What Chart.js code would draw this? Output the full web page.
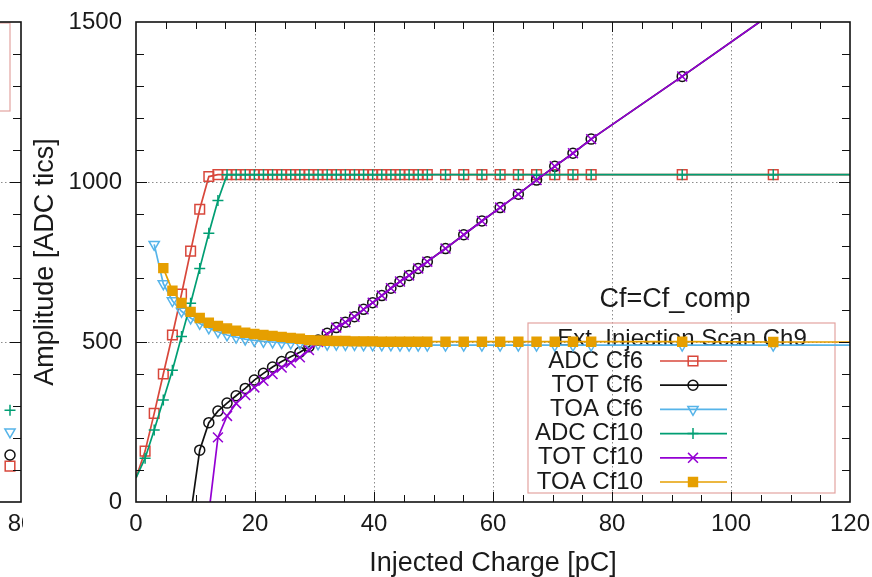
<!DOCTYPE html>
<html>
<head>
<meta charset="utf-8">
<script src="https://cdn.jsdelivr.net/npm/chart.js@4/dist/chart.umd.min.js"></script>
<style>
  html, body { margin: 0; padding: 0; background: #fff; overflow: hidden; width: 872px; height: 577px; }
  #side { position: absolute; left: -479px; top: 0; width: 530px; height: 577px; }
  #main { position: absolute; left: 23px; top: 0; width: 880px; height: 577px; background: #fff; }
  canvas { display: block; }
</style>
</head>
<body>
<div id="side"><canvas id="sideChart" width="530" height="577"></canvas></div>
<div id="main"><canvas id="mainChart" width="880" height="577"></canvas></div>
<script>
// Injected charge of each scan step [pC]
const charge = [0, 1.53, 3.06, 4.59, 6.12, 7.65, 9.18, 10.71, 12.24, 13.77, 15.30, 16.83, 18.36, 19.89,
  21.42, 22.95, 24.48, 26.01, 27.54, 29.07, 30.60, 32.13, 33.66, 35.19, 36.72, 38.25, 39.78, 41.31,
  42.84, 44.37, 45.90, 47.43, 48.96, 52.02, 55.08, 58.14, 61.20, 64.26, 67.32, 70.38, 73.44, 76.50,
  91.80, 107.10, 122.40];

// Amplitudes [ADC tics] per scan step (null = no measurement)
const adcCf6 = [75, 159, 277, 400, 522, 650, 784, 915, 1017, 1023, 1023, 1023, 1023, 1023, 1023,
  1023, 1023, 1023, 1023, 1023, 1023, 1023, 1023, 1023, 1023, 1023, 1023, 1023, 1023, 1023, 1023,
  1023, 1023, 1023, 1023, 1023, 1023, 1023, 1023, 1023, 1023, 1023, 1023, 1023, 1023];
const totCf6 = [null, null, null, null, null, null, -40, 162, 248, 284, 309, 332, 355, 381, 402,
  422, 439, 454, 468, 485, 506, 527, 545, 562, 579, 602, 623, 645, 668, 689, 708, 730, 751,
  792, 835, 878, 920, 962, 1006, 1049, 1090, 1134, 1330, 1530, 1730];
const toaCf6 = [null, null, 805, 682, 629, 596, 575, 558, 544, 532, 522, 515, 509, 505, 502, 500,
  498, 497, 496, 495, 494, 493, 493, 492, 492, 491, 491, 491, 491, 490, 490, 490, 490,
  490, 490, 490, 490, 490, 490, 490, 490, 490, 490, 490, 490];
const adcCf10 = [75, 137, 225, 319, 412, 517, 621, 730, 840, 942, 1023, 1023, 1023, 1023, 1023,
  1023, 1023, 1023, 1023, 1023, 1023, 1023, 1023, 1023, 1023, 1023, 1023, 1023, 1023, 1023, 1023,
  1023, 1023, 1023, 1023, 1023, 1023, 1023, 1023, 1023, 1023, 1023, 1023, 1023, 1023];
const totCf10 = [null, null, null, null, null, null, null, null, -35, 202, 269, 308, 334, 358, 379,
  400, 420, 435, 452, 475, 500, 524, 545, 562, 579, 602, 623, 645, 668, 689, 708, 730, 751,
  792, 835, 878, 920, 962, 1006, 1049, 1090, 1134, 1330, 1530, 1730];
const toaCf10 = [null, null, null, 731, 660, 622, 594, 575, 560, 550, 542, 535, 529, 525, 522, 519,
  516, 513, 510, 506, 505, 504, 503, 503, 502, 502, 502, 501, 501, 501, 501, 501, 501,
  501, 501, 501, 501, 501, 501, 501, 501, 501, 501, 500, 500];

const seriesLabels = ['ADC Cf6', 'TOT Cf6', 'TOA Cf6', 'ADC Cf10', 'TOT Cf10', 'TOA Cf10'];
const seriesValues = [adcCf6, totCf6, toaCf6, adcCf10, totCf10, toaCf10];

// Labelled ticks
const xTickLabels = [0, 20, 40, 60, 80, 100, 120];
const yTickLabels = [0, 500, 1000, 1500];

// Neighbouring panel (only its right edge is visible)
const sideCharge = [78];
const sideAdcCf10 = [287];
const sideToaCf6 = [219];
const sideTotCf6 = [147];
const sideAdcCf6 = [112];
const sideXTickLabels = [0, 20, 40, 60, 80];

const keyTitle = 'Ext. Injection Scan Ch9';
const configLabel = 'Cf=Cf_comp';

// ---- styling ----
const FONT = "'Liberation Sans', Arial, Helvetica, sans-serif";
Chart.defaults.font.family = FONT;
Chart.defaults.color = '#1a1a1a';

const styles = [
  { color: '#d8473b', pointStyle: 'rect', radius: 6.8, filled: false, rotation: 0 },
  { color: '#111111', pointStyle: 'circle', radius: 5.0, filled: false, rotation: 0 },
  { color: '#56b4e9', pointStyle: 'triangle', radius: 5.9, filled: false, rotation: 180 },
  { color: '#009e73', pointStyle: 'cross', radius: 5.5, filled: false, rotation: 0 },
  { color: '#9400d3', pointStyle: 'crossRot', radius: 7.0, filled: false, rotation: 0 },
  { color: '#e69f00', pointStyle: 'rect', radius: 6.3, filled: true, rotation: 0 }
];

function toPoints(values, xs) {
  const pts = [];
  values.forEach((v, i) => { if (v !== null) pts.push({ x: xs[i], y: v }); });
  return pts;
}

function makeDataset(label, points, st, order) {
  return {
    label,
    data: points,
    borderColor: st.color,
    backgroundColor: st.filled ? st.color : 'rgba(0,0,0,0)',
    pointBorderColor: st.color,
    pointBackgroundColor: st.filled ? st.color : 'rgba(0,0,0,0)',
    pointStyle: st.pointStyle,
    pointRotation: st.rotation,
    pointRadius: ctx => (ctx.raw && ctx.raw.x <= 0) ? 0 : st.radius,
    pointHoverRadius: st.radius,
    pointBorderWidth: 1.5,
    borderWidth: 1.7,
    tension: 0,
    clip: 0,
    order
  };
}

// marker drawing for the key (same geometry as Chart.js point styles)
function drawMarker(ctx, st, x, y) {
  const r = st.radius;
  ctx.save();
  ctx.strokeStyle = st.color;
  ctx.fillStyle = st.color;
  ctx.lineWidth = 1.5;
  ctx.beginPath();
  if (st.pointStyle === 'rect') {
    const s = r * Math.SQRT1_2;
    ctx.rect(x - s, y - s, 2 * s, 2 * s);
  } else if (st.pointStyle === 'circle') {
    ctx.arc(x, y, r, 0, Math.PI * 2);
  } else if (st.pointStyle === 'triangle') {
    let rad = st.rotation * Math.PI / 180;
    ctx.moveTo(x + Math.sin(rad) * r, y - Math.cos(rad) * r);
    rad += 2 * Math.PI / 3;
    ctx.lineTo(x + Math.sin(rad) * r, y - Math.cos(rad) * r);
    rad += 2 * Math.PI / 3;
    ctx.lineTo(x + Math.sin(rad) * r, y - Math.cos(rad) * r);
    ctx.closePath();
  } else if (st.pointStyle === 'cross') {
    ctx.moveTo(x, y - r); ctx.lineTo(x, y + r);
    ctx.moveTo(x - r, y); ctx.lineTo(x + r, y);
  } else if (st.pointStyle === 'crossRot') {
    const d = r * Math.SQRT1_2;
    ctx.moveTo(x - d, y - d); ctx.lineTo(x + d, y + d);
    ctx.moveTo(x + d, y - d); ctx.lineTo(x - d, y + d);
  }
  if (st.filled) ctx.fill();
  ctx.stroke();
  ctx.restore();
}

// frame with inward ticks, gnuplot style
const framePlugin = {
  id: 'frame',
  afterDatasetsDraw(chart, args, opts) {
    const { ctx, chartArea: a, scales: { x, y } } = chart;
    ctx.save();
    ctx.strokeStyle = '#111';
    ctx.lineWidth = 1;
    ctx.beginPath();
    for (let v = x.min + opts.xStep; v < x.max - 1e-9; v += opts.xStep) {
      const p = Math.round(x.getPixelForValue(v)) + 0.5;
      const len = (Math.abs(v % opts.xMajor) < 1e-6) ? 10 : 7;
      ctx.moveTo(p, a.bottom); ctx.lineTo(p, a.bottom - len);
      ctx.moveTo(p, a.top); ctx.lineTo(p, a.top + len);
    }
    for (let v = y.min + opts.yStep; v < y.max - 1e-9; v += opts.yStep) {
      const p = Math.round(y.getPixelForValue(v)) + 0.5;
      const len = (Math.abs(v % opts.yMajor) < 1e-6) ? 11 : 8;
      ctx.moveTo(a.left, p); ctx.lineTo(a.left + len, p);
      ctx.moveTo(a.right, p); ctx.lineTo(a.right - len, p);
    }
    ctx.stroke();
    ctx.lineWidth = 1.6;
    ctx.strokeRect(a.left, a.top, a.right - a.left, a.bottom - a.top);
    ctx.restore();
  }
};

// key box and configuration label; text sits beneath the curves
const keyPlugin = {
  id: 'gnuKey',
  beforeDatasetsDraw(chart) {
    const { ctx, chartArea: a } = chart;
    ctx.save();
    ctx.strokeStyle = '#e3a3a0';
    ctx.lineWidth = 1.2;
    ctx.strokeRect(a.right - 322, a.bottom - 179, 307, 170);

    ctx.fillStyle = '#1a1a1a';
    ctx.textBaseline = 'middle';
    ctx.font = '27px ' + FONT;
    ctx.textAlign = 'center';
    ctx.fillText(configLabel, a.right - 175, 300);

    ctx.font = '24px ' + FONT;
    ctx.fillText(keyTitle, a.right - 168, 339);

    ctx.textAlign = 'right';
    chart.data.datasets.forEach((ds, i) => {
      ctx.fillText(ds.label, a.right - 207, 361 + i * 24.2);
    });
    ctx.restore();
  },
  afterDatasetsDraw(chart) {
    const { ctx, chartArea: a } = chart;
    chart.data.datasets.forEach((ds, i) => {
      const yy = 361 + i * 24.2;
      const st = styles[i];
      ctx.save();
      ctx.strokeStyle = st.color;
      ctx.lineWidth = 1.7;
      ctx.beginPath();
      ctx.moveTo(a.right - 190, yy); ctx.lineTo(a.right - 123, yy);
      ctx.stroke();
      ctx.restore();
      drawMarker(ctx, st, a.right - 157, yy);
    });
  }
};

const gridColor = (max) => (c) => (c.tick && (c.tick.value <= 0 || c.tick.value >= max)) ? 'rgba(0,0,0,0)' : '#8c8c8c';
const plainNumber = v => String(v);

// ---- main panel ----
new Chart(document.getElementById('mainChart'), {
  type: 'line',
  data: {
    datasets: seriesLabels.map((lab, i) =>
      makeDataset(lab, toPoints(seriesValues[i], charge), styles[i], seriesLabels.length - i))
  },
  options: {
    responsive: false,
    animation: false,
    devicePixelRatio: 1,
    events: [],
    layout: { padding: { left: 0, top: 22, right: 53, bottom: 0 } },
    plugins: {
      legend: { display: false },
      tooltip: { enabled: false },
      frame: { xStep: 5, xMajor: 20, yStep: 100, yMajor: 500 }
    },
    scales: {
      x: {
        type: 'linear',
        min: xTickLabels[0],
        max: xTickLabels[xTickLabels.length - 1],
        afterBuildTicks: s => { s.ticks = xTickLabels.map(v => ({ value: v })); },
        afterFit: s => { s.height = 75; s.paddingLeft = 0; s.paddingRight = 0; },
        ticks: { font: { size: 24 }, color: '#1a1a1a', padding: 8, maxRotation: 0, callback: plainNumber },
        grid: { color: gridColor(120), lineWidth: 1, drawTicks: false },
        border: { display: false, dash: [1.5, 2.5] },
        title: { display: true, text: 'Injected Charge [pC]', font: { size: 27, lineHeight: 1 }, color: '#1a1a1a', padding: { top: 0, bottom: 0 } }
      },
      y: {
        type: 'linear',
        min: yTickLabels[0],
        max: yTickLabels[yTickLabels.length - 1],
        afterBuildTicks: s => { s.ticks = yTickLabels.map(v => ({ value: v })); },
        afterFit: s => { s.width = 113; s.paddingTop = 0; s.paddingBottom = 0; },
        ticks: { font: { size: 24 }, color: '#1a1a1a', padding: 14, callback: plainNumber },
        grid: { color: gridColor(1500), lineWidth: 1, drawTicks: false },
        border: { display: false, dash: [1.5, 2.5] },
        title: { display: true, text: 'Amplitude [ADC tics]', font: { size: 27, lineHeight: 1 }, color: '#1a1a1a', padding: { top: 9, bottom: 0 } }
      }
    }
  },
  plugins: [keyPlugin, framePlugin]
});

// ---- neighbouring panel ----
const sideBoxPlugin = {
  id: 'sideBox',
  beforeDatasetsDraw(chart) {
    const { ctx, chartArea: a } = chart;
    ctx.save();
    ctx.strokeStyle = '#e3a3a0';
    ctx.lineWidth = 1.2;
    ctx.strokeRect(a.right - 200, a.top + 1, 189, 88);
    ctx.restore();
  }
};

const sideSeries = [sideAdcCf6, sideTotCf6, sideToaCf6, sideAdcCf10];
const sideStyleIdx = [0, 1, 2, 3];
new Chart(document.getElementById('sideChart'), {
  type: 'line',
  data: {
    datasets: sideSeries.map((vals, i) =>
      makeDataset(seriesLabels[sideStyleIdx[i]], toPoints(vals, sideCharge), styles[sideStyleIdx[i]], sideSeries.length - i))
  },
  options: {
    responsive: false,
    animation: false,
    devicePixelRatio: 1,
    events: [],
    layout: { padding: { left: 0, top: 22, right: 30, bottom: 0 } },
    plugins: {
      legend: { display: false },
      tooltip: { enabled: false },
      frame: { xStep: 5, xMajor: 20, yStep: 100, yMajor: 500 }
    },
    scales: {
      x: {
        type: 'linear', min: 0, max: 80,
        afterBuildTicks: s => { s.ticks = sideXTickLabels.map(v => ({ value: v })); },
        afterFit: s => { s.height = 75; s.paddingLeft = 0; s.paddingRight = 0; },
        ticks: { font: { size: 24 }, color: '#1a1a1a', padding: 8, maxRotation: 0, callback: plainNumber },
        grid: { color: gridColor(80), drawTicks: false },
        border: { display: false, dash: [1.5, 2.5] }
      },
      y: {
        type: 'linear', min: 0, max: 1500,
        afterBuildTicks: s => { s.ticks = yTickLabels.map(v => ({ value: v })); },
        afterFit: s => { s.width = 60; s.paddingTop = 0; s.paddingBottom = 0; },
        ticks: { display: false },
        grid: { color: gridColor(1500), drawTicks: false },
        border: { display: false, dash: [1.5, 2.5] }
      }
    }
  },
  plugins: [sideBoxPlugin, framePlugin]
});
</script>
</body>
</html>
